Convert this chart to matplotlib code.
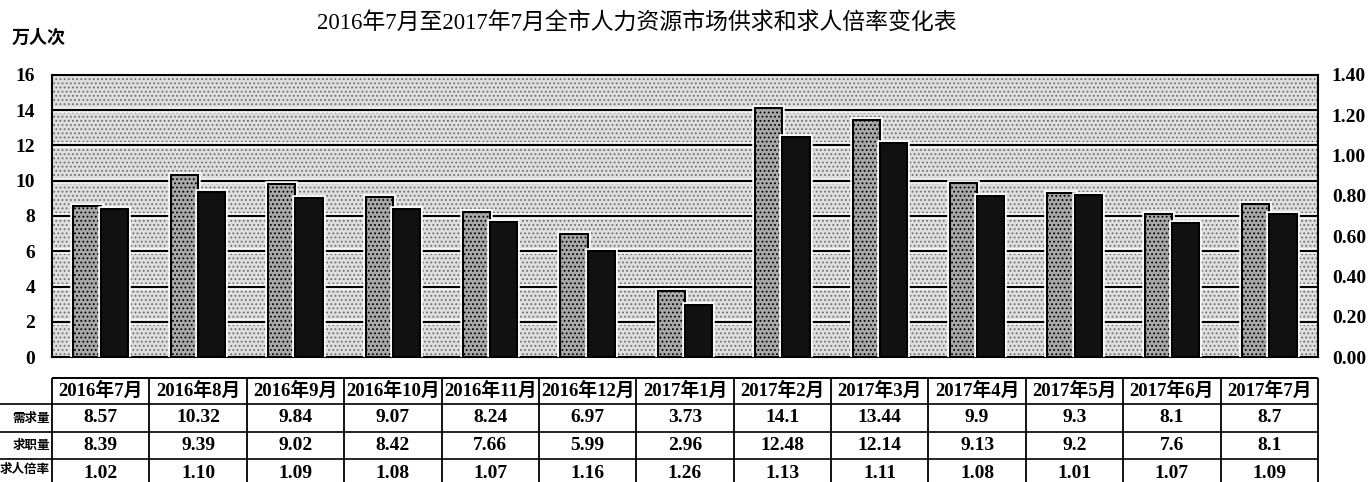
import matplotlib
matplotlib.use('Agg')
import matplotlib.pyplot as plt
import matplotlib.patches as patches
import matplotlib.patheffects as pe

plt.rcParams['font.family'] = ['Liberation Serif', 'Noto Sans CJK SC', 'DejaVu Sans']
plt.rcParams['hatch.linewidth'] = 0.8

# data
months = ['2016年7月', '2016年8月', '2016年9月', '2016年10月', '2016年11月',
          '2016年12月', '2017年1月', '2017年2月', '2017年3月', '2017年4月',
          '2017年5月', '2017年6月', '2017年7月']
demand = [8.57, 10.32, 9.84, 9.07, 8.24, 6.97, 3.73, 14.1, 13.44, 9.9, 9.3, 8.1, 8.7]
seekers = [8.39, 9.39, 9.02, 8.42, 7.66, 5.99, 2.96, 12.48, 12.14, 9.13, 9.2, 7.6, 8.1]
ratio = [1.02, 1.10, 1.09, 1.08, 1.07, 1.16, 1.26, 1.13, 1.11, 1.08, 1.01, 1.07, 1.09]
row_names = ['需求量', '求职量', '求人倍率']
demand_txt = ['8.57', '10.32', '9.84', '9.07', '8.24', '6.97', '3.73', '14.1', '13.44',
              '9.9', '9.3', '8.1', '8.7']
seekers_txt = ['8.39', '9.39', '9.02', '8.42', '7.66', '5.99', '2.96', '12.48', '12.14',
               '9.13', '9.2', '7.6', '8.1']
left_ticks = [0, 2, 4, 6, 8, 10, 12, 14, 16]
right_ticks = [0.0, 0.2, 0.4, 0.6, 0.8, 1.0, 1.2, 1.4]

W, H = 1370, 482
fig = plt.figure(figsize=(W / 100, H / 100), dpi=100)
fig.patch.set_facecolor('white')

# main plot area (pixel box 52..1318 x 75..357)
ax = fig.add_axes([52 / W, (H - 357) / H, 1266 / W, 282 / H])
n = len(months)
x = list(range(n))

bg = patches.Rectangle((0, 0), 1, 1, transform=ax.transAxes, facecolor='#dedede',
                       edgecolor='#6f6f6f', linewidth=0, hatch='....', zorder=0)
ax.add_patch(bg)
ax.set_facecolor('white')

halo = [pe.Stroke(linewidth=4, foreground='white'), pe.Normal()]
for yv in left_ticks[1:-1]:
    ax.axhline(yv, color='black', lw=1.6, zorder=1, path_effects=halo)

w = 0.28
ax.bar([i - w / 2 for i in x], demand, width=w, facecolor='#a8a8a8', edgecolor='black',
       linewidth=1.5, hatch='....', zorder=3, path_effects=halo)
ax.bar([i + w / 2 for i in x], seekers, width=w, facecolor='#111111', edgecolor='black',
       linewidth=1.5, zorder=3, path_effects=halo)

ax.set_xlim(-0.5, n - 0.5)
ax.set_ylim(0, 16)
ax.set_yticks(left_ticks)
ax.set_xticks([])
ax.tick_params(axis='y', length=0, pad=12, labelsize=14)
for lab in ax.get_yticklabels():
    lab.set_fontweight('bold')
for s in ax.spines.values():
    s.set_linewidth(1.5)
    s.set_color('black')

ax2 = ax.twinx()
ax2.set_ylim(0, 1.4)
ax2.set_yticks(right_ticks)
ax2.set_yticklabels(['%.2f' % v for v in right_ticks])
ax2.tick_params(axis='y', length=0, pad=10, labelsize=14)
for lab in ax2.get_yticklabels():
    lab.set_fontweight('bold')
for s in ax2.spines.values():
    s.set_visible(False)

fig.text(637 / W, 1 - 23 / H, '2016年7月至2017年7月全市人力资源市场供求和求人倍率变化表',
         ha='center', va='center', fontsize=16.5)
fig.text(12 / W, 1 - 37 / H, '万人次', ha='left', va='center', fontsize=13,
         fontweight='bold', family=['Noto Sans CJK SC', 'DejaVu Sans'])

# data table under the plot, y in pixel rows
tax = fig.add_axes([52 / W, (H - 487) / H, 1266 / W, 109 / H])
tax.set_xlim(0, n)
tax.set_ylim(487, 378)
tax.axis('off')
rows = [378, 404, 432, 459, 487]
left_ext = -52 / (1266 / n)

tax.hlines(rows[0], 0, n, color='black', lw=1.4, clip_on=False)
for yv in rows[1:]:
    tax.hlines(yv, left_ext, n, color='black', lw=1.2, clip_on=False)
for i in range(n + 1):
    tax.vlines(i, rows[0], rows[-1], color='black', lw=1.3, clip_on=False)

ratio_txt = ['%.2f' % v for v in ratio]
cells = [months, demand_txt, seekers_txt, ratio_txt]
for r, vals in enumerate(cells):
    yc = (rows[r] + rows[r + 1]) / 2
    for i, t in enumerate(vals):
        tax.text(i + 0.5, yc, t, ha='center', va='center',
                 fontsize=13.5 if r == 0 else 14, fontweight='bold', clip_on=False)
for r, name in enumerate(row_names):
    yc = (rows[r + 1] + rows[r + 2]) / 2
    if r == 2:
        yc = rows[3] + 10
    tax.text(-0.02, yc, name, ha='right', va='center', fontsize=9, fontweight='bold',
             family=['Noto Sans CJK SC', 'DejaVu Sans'], clip_on=False)

fig.savefig('out.png', dpi=100)
